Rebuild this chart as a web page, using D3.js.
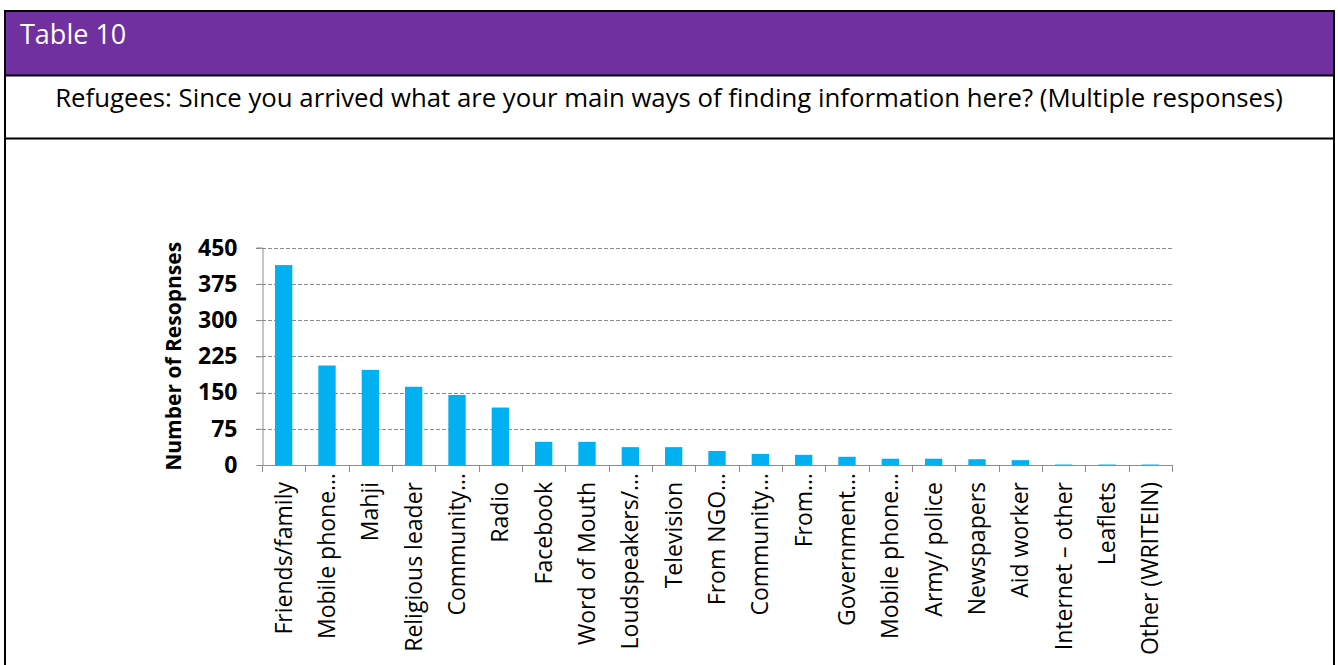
<!DOCTYPE html>
<html>
<head>
<meta charset="utf-8">
<script src="https://cdn.jsdelivr.net/npm/d3@7"></script>
<style>
  body { margin: 0; background: #fff; }
  text { font-family: "Open Sans", sans-serif; }
</style>
</head>
<body>
<div id="chart"></div>
<script>
// data
var categories = ["Friends/family", "Mobile phone\u2026", "Mahji", "Religious leader", "Community\u2026",
  "Radio", "Facebook", "Word of Mouth", "Loudspeakers/\u2026", "Television", "From NGO\u2026",
  "Community\u2026", "From\u2026", "Government\u2026", "Mobile phone\u2026", "Army/ police",
  "Newspapers", "Aid worker", "Internet \u2013 other", "Leaflets", "Other (WRITEIN)"];
var responses = [414, 206, 197, 162, 145, 119, 48, 48, 37, 37, 29, 23, 21, 17, 13, 13, 12, 10, 1, 1, 1];
var yTicks = [0, 75, 150, 225, 300, 375, 450];

var svgWidth = 1338;
var svgHeight = 665;

var svg = d3.select("#chart")
  .append("svg")
  .attr("width", svgWidth)
  .attr("height", svgHeight);

// table frame
svg.append("rect")
  .attr("x", 5).attr("y", 11)
  .attr("width", 1329).attr("height", 64)
  .attr("fill", "#7030A0");

svg.append("rect")
  .attr("x", 5).attr("y", 11)
  .attr("width", 1329).attr("height", 670)
  .attr("fill", "none")
  .attr("stroke", "#000")
  .attr("stroke-width", 2);

[75.5, 138.5].forEach(function(y) {
  svg.append("line")
    .attr("x1", 5).attr("x2", 1334)
    .attr("y1", y).attr("y2", y)
    .attr("stroke", "#000")
    .attr("stroke-width", 2);
});

svg.append("text")
  .attr("x", 20).attr("y", 44)
  .attr("fill", "#fff")
  .attr("font-size", "27px")
  .text("Table 10");

var sub = svg.append("text")
  .attr("x", 669).attr("y", 107)
  .attr("text-anchor", "middle")
  .attr("fill", "#000")
  .attr("font-size", "21px")
  .text("Refugees: Since you arrived what are your main ways of finding information here? (Multiple responses)");
// fit the subtitle to the width it takes in the reference
var subLen = sub.node().getComputedTextLength();
sub.attr("font-size", (21 * 1228 / subLen) + "px");

// chart area
var plotLeft = 262, plotRight = 1172, plotTop = 247.7, plotBottom = 465;

var xBand = d3.scaleBand()
  .domain(d3.range(categories.length))
  .range([plotLeft, plotRight])
  .paddingInner(0.6)
  .paddingOuter(0.3);

var yLinearScale = d3.scaleLinear()
  .domain([0, 450])
  .range([plotBottom, plotTop]);

// gridlines
svg.append("g")
  .selectAll("line")
  .data(yTicks.filter(d => d > 0))
  .enter()
  .append("line")
  .attr("x1", plotLeft - 6).attr("x2", plotRight)
  .attr("y1", d => Math.round(yLinearScale(d)) + 0.5)
  .attr("y2", d => Math.round(yLinearScale(d)) + 0.5)
  .attr("stroke", "#8c8c8c")
  .attr("stroke-dasharray", "4,2");

// bars
svg.append("g")
  .selectAll("rect")
  .data(responses)
  .enter()
  .append("rect")
  .attr("x", (d, i) => xBand(i))
  .attr("y", d => yLinearScale(d))
  .attr("width", xBand.bandwidth())
  .attr("height", d => plotBottom - yLinearScale(d))
  .attr("fill", "#00B0F0");

// y axis
var leftAxis = d3.axisLeft(yLinearScale)
  .tickValues(yTicks)
  .tickSize(6)
  .tickPadding(19);

var yAxis = svg.append("g")
  .attr("transform", `translate(${plotLeft + 0.5}, 0)`)
  .call(leftAxis);
yAxis.select(".domain").attr("stroke", "#8c8c8c");
yAxis.selectAll(".tick line").attr("stroke", "#8c8c8c");
yAxis.selectAll(".tick text")
  .attr("font-family", "Open Sans, sans-serif")
  .attr("font-size", "23px")
  .attr("font-weight", "bold")
  .attr("fill", "#000");

// x axis line and category ticks
var step = xBand.step();
svg.append("line")
  .attr("x1", plotLeft).attr("x2", plotRight)
  .attr("y1", plotBottom + 0.5).attr("y2", plotBottom + 0.5)
  .attr("stroke", "#8c8c8c");

svg.append("g")
  .selectAll("line")
  .data(d3.range(categories.length + 1))
  .enter()
  .append("line")
  .attr("x1", i => Math.round(plotLeft + i * step) + 0.5)
  .attr("x2", i => Math.round(plotLeft + i * step) + 0.5)
  .attr("y1", plotBottom).attr("y2", plotBottom + 7)
  .attr("stroke", "#8c8c8c");

// category labels
svg.append("g")
  .selectAll("text")
  .data(categories)
  .enter()
  .append("text")
  .attr("transform", function(d, i) {
    var cx = xBand(i) + xBand.bandwidth() / 2 + 8;
    var y = d.endsWith("\u2026") ? plotBottom + 8 : plotBottom + 17;
    return `translate(${cx}, ${y}) rotate(-90)`;
  })
  .attr("text-anchor", "end")
  .attr("font-size", "23px")
  .attr("fill", "#000")
  .text(d => d);

// axis title
svg.append("text")
  .attr("transform", `translate(181, ${(plotTop + plotBottom) / 2}) rotate(-90)`)
  .attr("text-anchor", "middle")
  .attr("font-size", "21px")
  .attr("font-weight", "bold")
  .attr("fill", "#000")
  .text("Number of Resopnses");
</script>
</body>
</html>
